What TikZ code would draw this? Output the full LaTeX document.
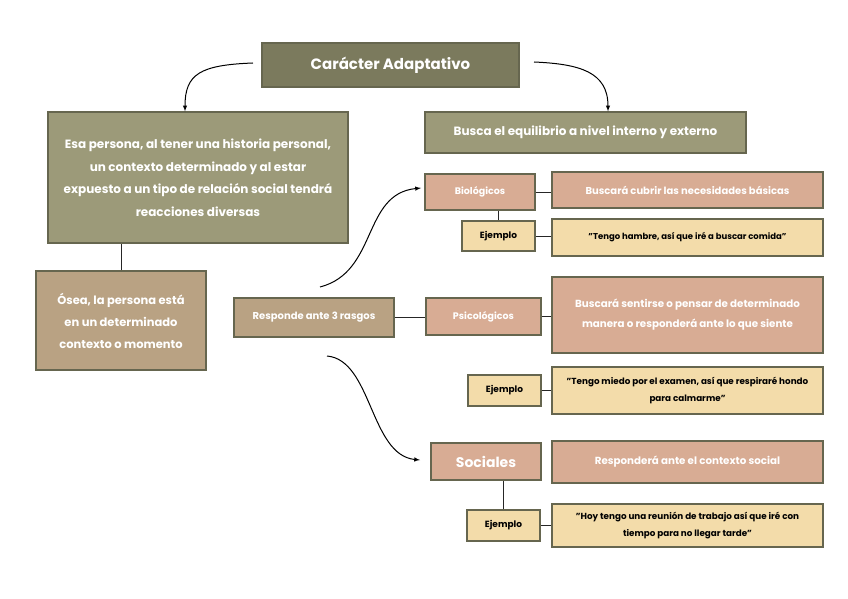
\documentclass[tikz,border=0pt]{standalone}
\usepackage{fontspec}
\setmainfont{Poppins}
\usepackage{tikz}
\usetikzlibrary{arrows}

\definecolor{titulo}{HTML}{7B7A5D}
\definecolor{oliva}{HTML}{9C9A79}
\definecolor{rosa}{HTML}{D8AC94}
\definecolor{tostado}{HTML}{B9A283}
\definecolor{crema}{HTML}{F3DCAA}
\definecolor{borde}{HTML}{66664F}

\tikzset{
  caja/.style={draw=borde, line width=1.3pt, align=center, inner sep=2pt, text=white},
  unir/.style={draw=black!85, line width=1pt},
  flecha/.style={-latex, line width=1pt, black}
}

\begin{document}
\begin{tikzpicture}[x=1pt,y=-1pt]
   \useasboundingbox (0,0) rectangle (848,599);
   % titulo y ramas
   \node[caja, fill=titulo, minimum width=257pt, minimum height=44pt, font=\fontsize{15}{17}\selectfont\bfseries] (titulo) at (390.5,65) {Carácter Adaptativo};
   \node[caja, fill=oliva, minimum width=300pt, minimum height=131pt, font=\fontsize{12}{22.5}\selectfont\bfseries] (persona) at (198,177.5) {Esa persona, al tener una historia personal,\\ un contexto determinado y al estar\\ expuesto a un tipo de relación social tendrá\\ reacciones diversas};
   \node[caja, fill=oliva, minimum width=321pt, minimum height=41pt, font=\fontsize{12}{14}\selectfont\bfseries] (equilibrio) at (585.5,132.5) {Busca el equilibrio a nivel interno y externo};
   \node[caja, fill=tostado, minimum width=170pt, minimum height=99pt, font=\fontsize{11.5}{22}\selectfont\bfseries] (osea) at (121,320.5) {Ósea, la persona está\\ en un determinado\\ contexto o momento};
   \node[caja, fill=tostado, minimum width=160pt, minimum height=39pt, font=\fontsize{10}{12}\selectfont\bfseries] (responde) at (314,317.5) {Responde ante 3 rasgos};
   % biologicos
   \node[caja, fill=rosa, minimum width=110pt, minimum height=36pt, font=\fontsize{9.5}{11}\selectfont\bfseries] (bio) at (480,192) {Biológicos};
   \node[caja, fill=rosa, minimum width=271pt, minimum height=36pt, font=\fontsize{10}{12}\selectfont\bfseries] (biodesc) at (687.5,190) {Buscará cubrir las necesidades básicas};
   \node[caja, fill=crema, text=black, minimum width=73pt, minimum height=30pt, font=\fontsize{9}{11}\selectfont\bfseries] (ejbio) at (498.5,236) {Ejemplo};
   \node[caja, fill=crema, text=black, minimum width=271pt, minimum height=37pt, font=\fontsize{8.5}{10}\selectfont\bfseries] (frasebio) at (687.5,237.5) {"Tengo hambre, así que iré a buscar comida"};
   % psicologicos
   \node[caja, fill=rosa, minimum width=115pt, minimum height=37pt, font=\fontsize{9.5}{11}\selectfont\bfseries] (psi) at (483.5,316.5) {Psicológicos};
   \node[caja, fill=rosa, minimum width=271pt, minimum height=76pt, font=\fontsize{10.3}{20}\selectfont\bfseries] (psidesc) at (687.5,315) {Buscará sentirse o pensar de determinado\\ manera o responderá ante lo que siente};
   \node[caja, fill=crema, text=black, minimum width=73pt, minimum height=31pt, font=\fontsize{9}{11}\selectfont\bfseries] (ejpsi) at (504.5,390.5) {Ejemplo};
   \node[caja, fill=crema, text=black, minimum width=271pt, minimum height=47pt, font=\fontsize{8.8}{17}\selectfont\bfseries] (frasepsi) at (687.5,390.5) {"Tengo miedo por el examen, así que respiraré hondo\\ para calmarme"};
   % sociales
   \node[caja, fill=rosa, minimum width=110pt, minimum height=37pt, font=\fontsize{14}{16}\selectfont\bfseries] (soc) at (486,461.5) {Sociales};
   \node[caja, fill=rosa, minimum width=271pt, minimum height=42pt, font=\fontsize{10.3}{12}\selectfont\bfseries] (socdesc) at (687.5,462) {Responderá ante el contexto social};
   \node[caja, fill=crema, text=black, minimum width=73pt, minimum height=31pt, font=\fontsize{9}{11}\selectfont\bfseries] (ejsoc) at (503.5,525.5) {Ejemplo};
   \node[caja, fill=crema, text=black, minimum width=271pt, minimum height=43pt, font=\fontsize{8.8}{17}\selectfont\bfseries] (frasesoc) at (687.5,525.5) {"Hoy tengo una reunión de trabajo así que iré con\\ tiempo para no llegar tarde"};

   % lineas rectas
   \draw[unir] (osea.north) -- (osea.north |- persona.south);
   \draw[unir] (responde.east) -- (responde.east -| psi.west);
   \draw[unir] (bio.east) -- (bio.east -| biodesc.west);
   \draw[unir] (ejbio.north) -- (ejbio.north |- bio.south);
   \draw[unir] (ejbio.east) -- (ejbio.east -| frasebio.west);
   \draw[unir] (psi.east) -- (psi.east -| psidesc.west);
   \draw[unir] (ejpsi.east) -- (ejpsi.east -| frasepsi.west);
   \draw[unir] (ejsoc.north) -- (ejsoc.north |- soc.south);
   \draw[unir] (ejsoc.east) -- (ejsoc.east -| frasesoc.west);

   % flechas curvas
   \coordinate (izqA) at (253,63);
   \coordinate (derA) at (534,62);
   \coordinate (arribaA) at (320,287);
   \coordinate (arribaB) at (421,188);
   \coordinate (abajoA) at (327,356);
   \coordinate (abajoB) at (420,460);
   \draw[flecha] (izqA) .. controls (200,65) and (185,74) .. (persona.north -| 185,0);
   \draw[flecha] (derA) .. controls (580,64) and (608,72) .. (equilibrio.north -| 608,0);
   \draw[flecha] (arribaA) .. controls (378,272) and (362,194) .. (arribaB);
   \draw[flecha] (abajoA) .. controls (372,360) and (370,455) .. (abajoB);
\end{tikzpicture}
\end{document}
